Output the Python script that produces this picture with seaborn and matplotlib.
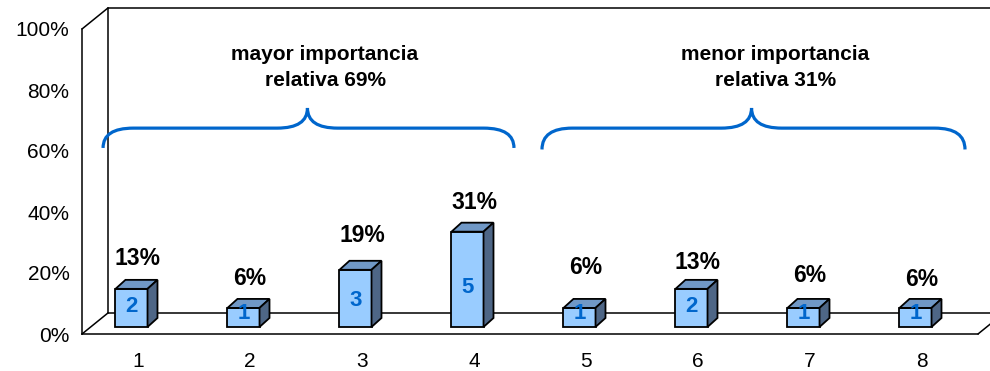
import numpy as np
import matplotlib
matplotlib.use("Agg")
import matplotlib.pyplot as plt
from matplotlib.patches import Polygon, PathPatch
from matplotlib.path import Path
import seaborn as sns

# ===== 数据 =====
categories = ["1", "2", "3", "4", "5", "6", "7", "8"]
counts = [2, 1, 3, 5, 1, 2, 1, 1]
percent = [12.5, 6.25, 18.75, 31.25, 6.25, 12.5, 6.25, 6.25]
pct_labels = ["13%", "6%", "19%", "31%", "6%", "13%", "6%", "6%"]
group_texts = ["mayor importancia\nrelativa 69%", "menor importancia\nrelativa 31%"]

# label lift above each bar (manual Excel placement), in % units
label_lift = [12.4, 11.8, 13.4, 11.8, 15.4, 11.1, 12.8, 11.5]

# ===== 样式 =====
FACE = "#99CCFF"
TOP = "#7098C6"
SIDE = "#4E6686"
BLUE = "#0066CC"
DX, DY = 0.232, 6.9        # floor / wall depth
BDX, BDY = 0.089, 2.95     # bar depth
BAR_W, BAR_SHIFT, BAR_BASE = 0.286, -0.058, 2.3

sns.set_style("white", {"text.color": "black", "xtick.color": "black",
                        "ytick.color": "black", "axes.labelcolor": "black"})
plt.rcParams["font.family"] = ["Liberation Sans", "DejaVu Sans"]

fig = plt.figure(figsize=(9.9, 3.71), dpi=100)
ax = fig.add_axes([82 / 990, 37 / 371, 896 / 990, 305 / 371])

sns.barplot(x=categories, y=percent, color=FACE, saturation=1,
            edgecolor="black", linewidth=1.3, width=BAR_W, ax=ax, zorder=3)

ax.set_xlim(-0.5, 7.5)
ax.set_ylim(0, 100)

# ===== 3D 框架 =====
kw = dict(color="black", lw=1.1, clip_on=False, zorder=1)
ax.plot([-0.5, -0.5 + DX], [0, DY], **kw)
ax.plot([-0.5, -0.5 + DX], [100, 100 + DY], **kw)
ax.plot([-0.5 + DX, -0.5 + DX], [DY, 100 + DY], **kw)
ax.plot([-0.5 + DX, 8.0], [DY, DY], **kw)
ax.plot([-0.5 + DX, 8.0], [100 + DY, 100 + DY], **kw)
ax.plot([7.5, 7.5 + DX], [0, DY], **kw)

# ===== 柱子 (3D 面) =====
for i, p in enumerate(ax.patches):
    p.set_x(p.get_x() + BAR_SHIFT)
    p.set_y(BAR_BASE)
    x0 = p.get_x()
    x1 = x0 + p.get_width()
    y0 = BAR_BASE
    y1 = y0 + p.get_height()
    top = Polygon([(x0, y1), (x1, y1), (x1 + BDX, y1 + BDY), (x0 + BDX, y1 + BDY)],
                  closed=True, facecolor=TOP, edgecolor="black", lw=1.3, zorder=3)
    side = Polygon([(x1, y0), (x1 + BDX, y0 + BDY), (x1 + BDX, y1 + BDY), (x1, y1)],
                   closed=True, facecolor=SIDE, edgecolor="black", lw=1.3, zorder=3)
    ax.add_patch(top)
    ax.add_patch(side)

    xc = x0 + p.get_width() / 2
    ax.text(xc, 4.8 + 0.33 * percent[i], str(counts[i]), color=BLUE,
            fontsize=16, fontweight="bold", ha="center", va="center", zorder=5)
    ax.text(i, percent[i] + label_lift[i], pct_labels[i], color="black",
            fontsize=16.5, fontweight="bold", ha="center", va="center", zorder=5)


# ===== 大括号 =====
def brace(xl, xr, xt, y_end, y_mid, y_tip, a=0.27):
    verts = [(xl, y_end), (xl, y_mid), (xl + a, y_mid),
             (xt - a, y_mid),
             (xt, y_mid), (xt, y_tip),
             (xt, y_mid), (xt + a, y_mid),
             (xr - a, y_mid),
             (xr, y_mid), (xr, y_end)]
    codes = [Path.MOVETO, Path.CURVE3, Path.CURVE3,
             Path.LINETO,
             Path.CURVE3, Path.CURVE3,
             Path.CURVE3, Path.CURVE3,
             Path.LINETO,
             Path.CURVE3, Path.CURVE3]
    ax.add_patch(PathPatch(Path(verts, codes), facecolor="none",
                           edgecolor=BLUE, lw=2.3, capstyle="butt", zorder=4))


brace(-0.312, 3.357, 1.513, 61.0, 67.5, 74.1)
brace(3.607, 7.384, 5.478, 60.5, 67.5, 74.1)

ax.text(1.67, 87.5, group_texts[0], fontsize=15, fontweight="bold",
        ha="center", va="center", linespacing=1.45, zorder=5)
ax.text(5.69, 87.5, group_texts[1], fontsize=15, fontweight="bold",
        ha="center", va="center", linespacing=1.45, zorder=5)

# ===== 坐标轴 =====
ax.set_yticks(np.arange(0, 101, 20))
ax.set_yticklabels([f"{v}%" for v in range(0, 101, 20)])
ax.set_xticks(np.arange(-0.5, 7.6, 1), minor=True)
ax.tick_params(axis="x", which="major", length=0, pad=13, labelsize=15)
ax.tick_params(axis="x", which="minor", length=6, width=1, color="black", direction="out")
ax.tick_params(axis="y", length=6, width=1, color="black", pad=3, labelsize=15, direction="out")
ax.set_xlabel("")
ax.set_ylabel("")
for s in ["top", "right"]:
    ax.spines[s].set_visible(False)
for s in ["left", "bottom"]:
    ax.spines[s].set_color("black")
    ax.spines[s].set_linewidth(1.1)

fig.savefig("out.png", dpi=100)
